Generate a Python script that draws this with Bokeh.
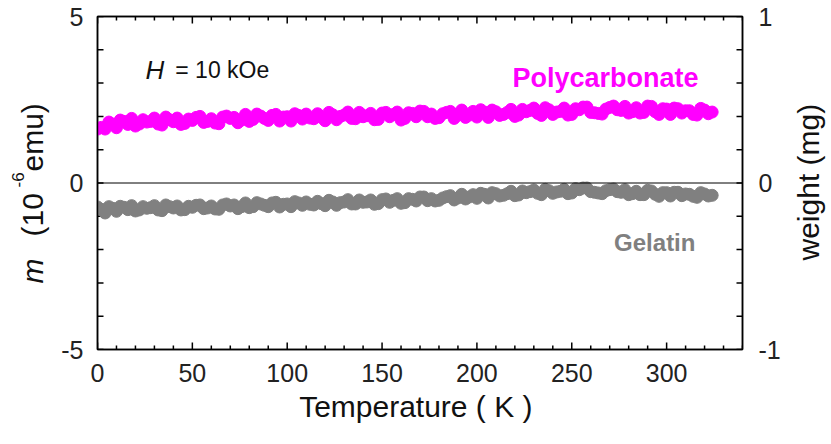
import math
from bokeh.plotting import figure
from bokeh.layouts import row
from bokeh.models import (Range1d, LinearAxis, FixedTicker, Span, Label,
                          ColumnDataSource)
from bokeh.embed import file_html
from bokeh.resources import INLINE

# ---------------- data ----------------
temp_poly_a = list(range(0, 325, 4))
m_poly_a = [1.62, 1.62, 1.77, 1.89, 1.76, 1.71, 1.90, 1.85, 1.77, 1.98,
            1.84, 1.76, 1.92, 1.97, 1.82, 1.93, 1.78, 2.01, 1.97, 1.89,
            1.85, 2.07, 1.94, 2.03, 1.86, 1.99, 2.08, 1.92, 1.95, 2.08,
            1.87, 2.05, 2.00, 2.13, 1.93, 1.99, 2.09, 1.91, 2.12, 2.06,
            1.89, 2.11, 1.99, 2.15, 2.07, 1.96, 2.12, 1.94, 2.19, 2.04,
            1.98, 2.13, 2.19, 2.03, 2.12, 2.00, 2.21, 2.18, 2.09, 2.26,
            2.06, 2.15, 2.04, 2.23, 2.28, 2.12, 2.09, 2.22, 2.31, 2.18,
            2.10, 2.26, 2.12, 2.30, 2.06, 2.22, 2.25, 2.10, 2.17, 2.04,
            2.19, 2.13]
temp_poly_b = list(range(2, 323, 4))
m_poly_b = [1.67, 1.83, 1.66, 1.85, 1.94, 1.77, 1.83, 1.95, 1.74, 1.90,
            1.95, 1.79, 1.88, 2.00, 1.85, 1.80, 1.98, 1.94, 1.81, 2.06,
            1.91, 2.01, 1.88, 2.06, 1.98, 1.86, 2.03, 2.07, 1.93, 1.97,
            2.12, 1.90, 2.04, 1.94, 2.12, 2.02, 1.90, 2.10, 1.99, 2.13,
            1.94, 2.09, 2.16, 1.99, 1.94, 2.08, 2.15, 2.04, 1.97, 2.15,
            2.20, 1.97, 2.14, 2.06, 2.21, 2.04, 2.14, 2.25, 2.03, 2.20,
            2.13, 2.25, 2.06, 2.20, 2.28, 2.11, 2.07, 2.27, 2.20, 2.30,
            2.14, 2.10, 2.31, 2.14, 2.23, 2.06, 2.23, 2.17, 2.06, 2.24,
            2.08]

temp_gel_a = list(range(0, 325, 4))
m_gel_a = [-0.72, -0.90, -0.76, -0.70, -0.80, -0.84, -0.71, -0.74, -0.81, -0.66,
           -0.75, -0.81, -0.70, -0.67, -0.77, -0.69, -0.79, -0.63, -0.66, -0.71,
           -0.74, -0.59, -0.67, -0.60, -0.72, -0.63, -0.56, -0.67, -0.64, -0.55,
           -0.68, -0.57, -0.59, -0.50, -0.63, -0.58, -0.51, -0.62, -0.48, -0.52,
           -0.61, -0.47, -0.54, -0.42, -0.47, -0.52, -0.41, -0.51, -0.34, -0.42,
           -0.46, -0.34, -0.29, -0.39, -0.32, -0.38, -0.24, -0.26, -0.31, -0.19,
           -0.31, -0.25, -0.32, -0.17, -0.15, -0.26, -0.30, -0.23, -0.18, -0.28,
           -0.35, -0.25, -0.35, -0.24, -0.40, -0.29, -0.28, -0.38, -0.34, -0.43,
           -0.33, -0.37]
temp_gel_b = list(range(2, 323, 4))
m_gel_b = [-0.79, -0.71, -0.85, -0.73, -0.68, -0.81, -0.76, -0.68, -0.83, -0.71,
           -0.69, -0.80, -0.73, -0.66, -0.75, -0.78, -0.66, -0.69, -0.77, -0.60,
           -0.71, -0.63, -0.71, -0.58, -0.64, -0.71, -0.60, -0.57, -0.66, -0.62,
           -0.52, -0.67, -0.57, -0.63, -0.51, -0.57, -0.64, -0.50, -0.58, -0.47,
           -0.59, -0.49, -0.42, -0.53, -0.54, -0.45, -0.38, -0.45, -0.48, -0.35,
           -0.31, -0.45, -0.32, -0.37, -0.25, -0.36, -0.29, -0.21, -0.35, -0.23,
           -0.27, -0.19, -0.30, -0.20, -0.15, -0.28, -0.32, -0.20, -0.26, -0.20,
           -0.32, -0.35, -0.22, -0.34, -0.29, -0.39, -0.28, -0.33, -0.40, -0.29,
           -0.39]

x_major = [0, 50, 100, 150, 200, 250, 300]
x_minor = list(range(0, 341, 10))
y_major = [-5, 0, 5]
y_minor = [-5, -4, -3, -2, -1, 0, 1, 2, 3, 4, 5]
w_major = [-1, 0, 1]
w_minor = [-1, -0.8, -0.6, -0.4, -0.2, 0, 0.2, 0.4, 0.6, 0.8, 1]

FONT = "Liberation Sans"
MAGENTA = "#FF00FF"
GRAY = "#808080"
INK = "#111111"

H = 444
FRAME_BOTTOM = 349          # page y of the frame bottom (shared by the row)
LEFT_W, RIGHT_W = 56, 41
MAIN_W = 831 - LEFT_W - RIGHT_W

X0, X1, Y0, Y1 = 0, 340, -5, 5
p = figure(width=MAIN_W, height=H, output_backend="svg", toolbar_location=None,
           x_range=Range1d(X0, X1), y_range=Range1d(Y0, Y1),
           x_axis_location=None, y_axis_location=None,
           min_border_left=97 - LEFT_W, min_border_right=790 - 742,
           min_border_top=16, min_border_bottom=H - FRAME_BOTTOM)
p.grid.visible = False
p.outline_line_color = "black"
p.outline_line_width = 1.5
p.background_fill_color = "white"
p.border_fill_color = "white"
p.extra_y_ranges = {"w": Range1d(-1, 1)}


def style(ax, standoff, size="25px"):
    ax.axis_line_color = "black"
    ax.axis_line_width = 1.5
    ax.major_tick_in = 0
    ax.major_tick_out = 0
    ax.minor_tick_in = 0
    ax.minor_tick_out = 0
    ax.major_label_text_font = FONT
    ax.major_label_text_font_size = size
    ax.major_label_text_color = "#222222"
    ax.major_label_standoff = standoff


bottom = LinearAxis(ticker=FixedTicker(ticks=x_major, minor_ticks=x_minor))
style(bottom, 14)
bottom.axis_label = "Temperature  ( K )"
bottom.axis_label_text_font = FONT
bottom.axis_label_text_font_size = "30px"
bottom.axis_label_text_font_style = "normal"
bottom.axis_label_text_color = INK
bottom.axis_label_standoff = 5
p.add_layout(bottom, "below")

top = LinearAxis(ticker=FixedTicker(ticks=x_major, minor_ticks=x_minor))
style(top, 0, size="0px")
top.major_label_overrides = {t: "" for t in x_major}
p.add_layout(top, "above")

left = LinearAxis(ticker=FixedTicker(ticks=y_major, minor_ticks=y_minor))
style(left, 14)
left.major_label_overrides = {-5: "-5", 0: "0", 5: "5"}
p.add_layout(left, "left")

right = LinearAxis(y_range_name="w",
                   ticker=FixedTicker(ticks=w_major, minor_ticks=w_minor))
style(right, 16)
right.major_label_overrides = {-1: "-1", 0: "0", 1: "1"}
p.add_layout(right, "right")

# inward tick marks, drawn from the tick lists
px_per_x = 645 / (X1 - X0)
px_per_y = 333 / (Y1 - Y0)
xt_len = [(7 if t in x_major else 4) / px_per_y for t in x_minor]
p.segment(x0=x_minor, x1=x_minor, y0=[Y0] * len(x_minor),
          y1=[Y0 + d for d in xt_len], line_color="black", line_width=1.5)
p.segment(x0=x_minor, x1=x_minor, y0=[Y1] * len(x_minor),
          y1=[Y1 - d for d in xt_len], line_color="black", line_width=1.5)
p.segment(x0=[X0] * len(y_minor), x1=[X0 + 6 / px_per_x] * len(y_minor),
          y0=y_minor, y1=y_minor, line_color="black", line_width=1.5)
p.segment(x0=[X1] * len(w_minor), x1=[X1 - 6 / px_per_x] * len(w_minor),
          y0=w_minor, y1=w_minor, y_range_name="w", line_color="black",
          line_width=1.5)

p.add_layout(Span(location=0, dimension="width", line_color="black",
                  line_width=1))

src_gel = ColumnDataSource(dict(t=temp_gel_a + temp_gel_b,
                                m=m_gel_a + m_gel_b))
src_poly = ColumnDataSource(dict(t=temp_poly_a + temp_poly_b,
                                 m=m_poly_a + m_poly_b))
p.scatter("t", "m", source=src_gel, size=12, color=GRAY)
p.scatter("t", "m", source=src_poly, size=12, color=MAGENTA)

# in-plot annotations
p.add_layout(Label(x=25.3, y=3.39, text="H", text_font=FONT,
                   text_font_size="26px", text_font_style="italic",
                   text_color=INK, text_baseline="alphabetic"))
p.add_layout(Label(x=41.0, y=3.39, text="= 10 kOe", text_font=FONT,
                   text_font_size="23px", text_color=INK,
                   text_baseline="alphabetic"))
p.add_layout(Label(x=316.8, y=3.15, text="Polycarbonate", text_font=FONT,
                   text_font_size="27px", text_font_style="bold",
                   text_color=MAGENTA, text_align="right",
                   text_baseline="alphabetic"))
p.add_layout(Label(x=315.2, y=-1.79, text="Gelatin", text_font=FONT,
                   text_font_size="24px", text_font_style="bold",
                   text_color=GRAY, text_align="right",
                   text_baseline="alphabetic"))


def side_panel(width):
    s = figure(width=width, height=H, output_backend="svg",
               toolbar_location=None, title=None,
               x_range=Range1d(0, 1), y_range=Range1d(0, 1),
               x_axis_location=None, y_axis_location=None, min_border=0)
    s.grid.visible = False
    s.outline_line_color = None
    s.background_fill_color = "white"
    s.border_fill_color = "white"
    return s


ang = math.pi / 2

# left axis title (rotated, mixed styles); y measured up from frame bottom
pl = side_panel(LEFT_W)
for txt, sx, page_y, size, st in [("m", 32, 283, "30px", "italic"),
                                  ("(10", 32, 236, "30px", "normal"),
                                  ("-6", 17, 187, "17px", "normal"),
                                  ("emu)", 32, 171, "30px", "normal")]:
    pl.add_layout(Label(x=sx, y=FRAME_BOTTOM - page_y, x_units="screen",
                        y_units="screen", text=txt, angle=ang,
                        text_font=FONT, text_font_size=size,
                        text_font_style=st, text_color=INK,
                        text_baseline="alphabetic"))

# right axis title
pr = side_panel(RIGHT_W)
pr.add_layout(Label(x=18, y=FRAME_BOTTOM - 260, x_units="screen",
                    y_units="screen", text="weight  (mg)", angle=ang,
                    text_font=FONT, text_font_size="30px", text_color=INK,
                    text_baseline="alphabetic"))

layout = row(pl, p, pr, spacing=0)
open("out.html", "w").write(file_html(layout, INLINE))
